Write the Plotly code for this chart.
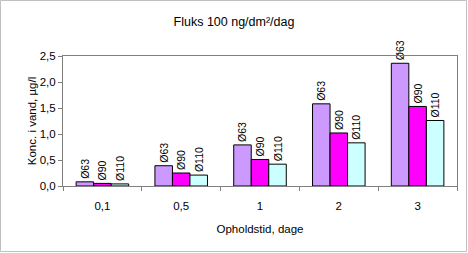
import plotly.graph_objects as go

categories = ["0,1", "0,5", "1", "2", "3"]
series_names = ["Ø63", "Ø90", "Ø110"]
v63 = [0.08, 0.39, 0.79, 1.58, 2.36]
v90 = [0.05, 0.25, 0.51, 1.02, 1.53]
v110 = [0.04, 0.21, 0.42, 0.83, 1.26]
colors = ["#CC99FF", "#FF00FF", "#CCFFFF"]
y_ticks = [0, 0.5, 1.0, 1.5, 2.0, 2.5]

fig = go.Figure()
for name, vals, col in zip(series_names, [v63, v90, v110], colors):
    fig.add_trace(go.Bar(
        x=categories, y=vals, name=name,
        marker=dict(color=col, line=dict(color="black", width=1)),
        text=[name] * len(vals), textposition="outside", textangle=-90,
        textfont=dict(family="Liberation Sans, Arial", size=10.5, color="black"),
        cliponaxis=False, constraintext="none",
    ))

fig.update_layout(
    width=468, height=253,
    margin=dict(l=63, r=11, t=56, b=67),
    paper_bgcolor="white", plot_bgcolor="white",
    barmode="group", bargap=0.333, bargroupgap=0,
    showlegend=False,
    separators=",.",
    font=dict(family="Liberation Sans, Arial", size=11.5, color="black"),
    title=dict(text="Fluks 100 ng/dm²/dag", x=0.5, xref="container", xanchor="center",
               y=1 - 22 / 253, yref="container", yanchor="middle",
               font=dict(size=12.5)),
    xaxis=dict(showline=True, linecolor="#808080", linewidth=1, mirror=True,
               ticks="outside", tickson="boundaries", ticklen=4, tickcolor="#808080",
               ticklabelstandoff=9,
               title=dict(text="Opholdstid, dage", standoff=14, font=dict(size=11.5))),
    yaxis=dict(range=[0, 2.5], tickvals=y_ticks, tickformat=".1f",
               showline=True, linecolor="#808080", linewidth=1, mirror=True,
               ticks="outside", ticklen=4, tickcolor="#808080", showgrid=False,
               zeroline=False,
               title=dict(text="Konc. i vand, µg/l", standoff=0, font=dict(size=11.5))),
    shapes=[dict(type="rect", xref="paper", yref="paper",
                 x0=-63 / 394 + 0.5 / 394, x1=1 + 9.5 / 394,
                 y0=-67 / 130 + 1.5 / 130, y1=1 + 55.5 / 130,
                 line=dict(color="#C0C0C0", width=1), fillcolor="rgba(0,0,0,0)",
                 layer="below")],
)

fig.write_html("out.html")
